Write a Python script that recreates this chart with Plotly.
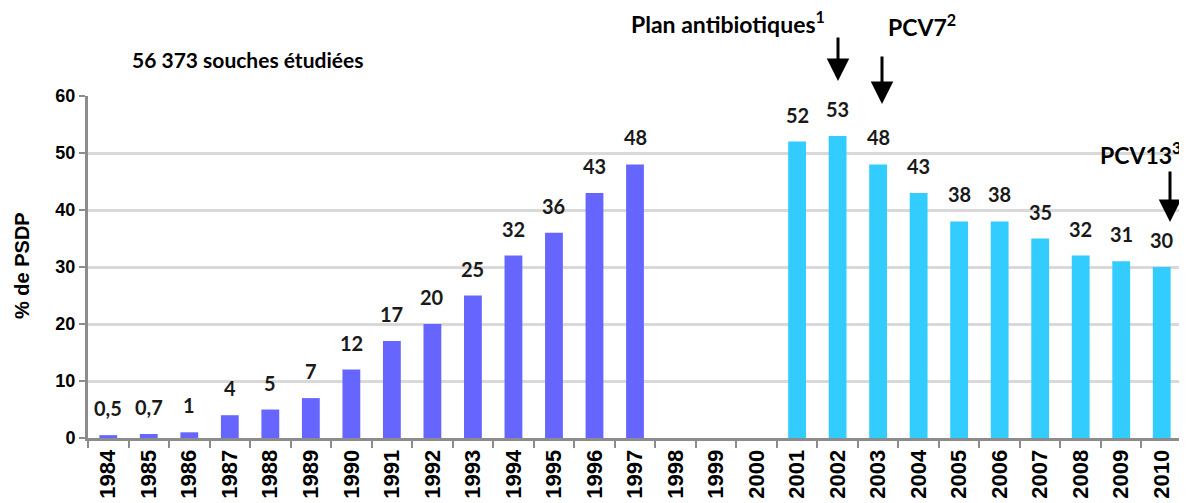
import plotly.graph_objects as go

years = [str(y) for y in range(1984, 2011)]
values = [0.5, 0.7, 1, 4, 5, 7, 12, 17, 20, 25, 32, 36, 43, 48,
          None, None, None,
          52, 53, 48, 43, 38, 38, 35, 32, 31, 30]
labels = ["0,5", "0,7", "1", "4", "5", "7", "12", "17", "20", "25", "32", "36", "43", "48",
          "", "", "",
          "52", "53", "48", "43", "38", "38", "35", "32", "31", "30"]
colors = ["#6666ff"] * 17 + ["#33ccff"] * 10

# plot area in screen pixels (page has an 8px body offset)
OFF = 8
L, R, T, B = 88, 1182, 96, 438
W, H = 1187, 503


def px(X):
    return (X - L) / (R - L)


def py(Y):
    return (B - Y) / (B - T)


fig = go.Figure()
fig.add_trace(go.Bar(
    x=years, y=values,
    marker=dict(color=colors, line=dict(width=0)),
    width=0.44,
))

# data labels: on a category axis annotations take the category's index
for i, (v, lab) in enumerate(zip(values, labels)):
    if v is None:
        continue
    fig.add_annotation(x=i, y=v, xref="x", yref="y", text=lab, showarrow=False,
                       yanchor="middle", yshift=27,
                       font=dict(family="Lato", size=20, color="#1a1a1a", weight="bold"))

fig.update_layout(
    width=W, height=H,
    margin=dict(l=L - OFF, r=W - (R - OFF), t=T - OFF, b=H - (B - OFF), autoexpand=False),
    paper_bgcolor="white", plot_bgcolor="white",
    showlegend=False,
    font=dict(family="Liberation Sans", color="#000"),
    xaxis=dict(type="category", tickangle=-90, tickson="boundaries",
               range=[-0.5, len(years) - 0.5],
               ticks="outside", ticklen=7, tickwidth=2, tickcolor="#8c8c8c",
               showline=True, linecolor="#8c8c8c", linewidth=3,
               tickfont=dict(family="Liberation Sans", size=22, weight="bold", color="#000"),
               automargin=False, showgrid=False),
    yaxis=dict(range=[0, 60], dtick=10, ticks="outside", ticklen=6, tickwidth=2,
               tickcolor="#8c8c8c", showline=True, linecolor="#8c8c8c", linewidth=3,
               gridcolor="#d9d9d9", gridwidth=3, zeroline=False,
               tickfont=dict(family="Liberation Sans", size=18, weight="bold", color="#000"),
               automargin=False),
)

fig.add_annotation(x=px(22), y=py(266), xref="paper", yref="paper", text="% de PSDP",
                   textangle=-90, showarrow=False,
                   font=dict(family="Liberation Sans", size=20, color="#000", weight="bold"),
                   xanchor="center", yanchor="middle")

ann_font = dict(family="Lato", size=23, color="#000", weight="bold")
fig.add_annotation(x=px(247), y=py(60), xref="paper", yref="paper", text="56 373 souches étudiées",
                   showarrow=False, font=dict(family="Lato", size=21, color="#000", weight="bold"),
                   xanchor="center", yanchor="middle")
fig.add_annotation(x=px(728), y=py(22), xref="paper", yref="paper", text="Plan antibiotiques<sup>1</sup>",
                   showarrow=False, font=ann_font, xanchor="center", yanchor="middle")
fig.add_annotation(x=px(922), y=py(25), xref="paper", yref="paper", text="PCV7<sup>2</sup>",
                   showarrow=False, font=ann_font, xanchor="center", yanchor="middle")
fig.add_annotation(x=px(1140), y=py(153), xref="paper", yref="paper", text="PCV13<sup>3</sup>",
                   showarrow=False, font=ann_font, xanchor="center", yanchor="middle")

arrow = dict(showarrow=True, arrowhead=2, arrowsize=1.5, arrowwidth=3, arrowcolor="#000",
             text="", xref="paper", yref="paper")
fig.add_annotation(x=px(838), y=py(81), ax=0, ay=-45, **arrow)
fig.add_annotation(x=px(882), y=py(104), ax=0, ay=-49, **arrow)
fig.add_annotation(x=px(1170), y=py(222), ax=0, ay=-52, **arrow)

fig.write_html("out.html")
